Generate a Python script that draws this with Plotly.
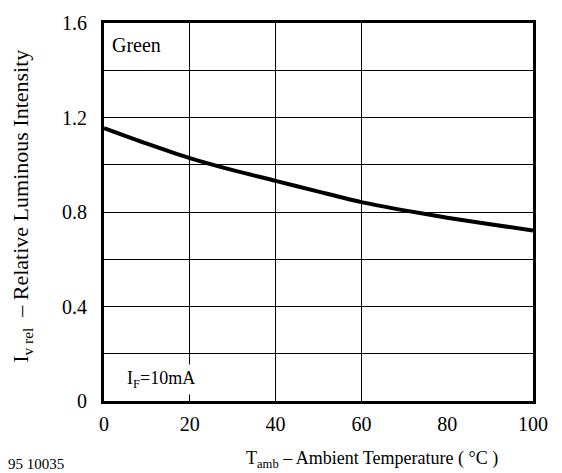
import plotly.graph_objects as go

# Relative luminous intensity vs. ambient temperature, green LED, IF = 10 mA
temperature = [0, 10, 20, 30, 40, 50, 60, 70, 80, 90, 100]
intensity = [1.155, 1.089, 1.028, 0.977, 0.932, 0.886, 0.842, 0.807, 0.776, 0.748, 0.722]

x_ticks = [0, 20, 40, 60, 80, 100]
y_ticks = [0, 0.4, 0.8, 1.2, 1.6]
y_tick_text = ["0", "0.4", "0.8", "1.2", "1.6"]
x_grid = [20, 40, 60]

FONT = "Liberation Serif"

fig = go.Figure()
fig.add_trace(go.Scatter(
    x=temperature, y=intensity, mode="lines",
    line=dict(color="black", width=4, shape="spline", smoothing=0.8),
    showlegend=False, hoverinfo="skip",
))

fig.update_layout(
    width=562, height=473,
    margin=dict(l=104, r=29, t=15, b=72),
    paper_bgcolor="white", plot_bgcolor="white",
    font=dict(family=FONT, size=20, color="black"),
    xaxis=dict(
        range=[0, 100], tickvals=x_ticks, ticks="",
        tickfont=dict(family=FONT, size=20, color="black"),
        showgrid=False, zeroline=False,
        showline=True, linecolor="black", linewidth=3, mirror=True,
        ticklabelstandoff=3,
        minor=dict(tickvals=x_grid, showgrid=True, gridcolor="black", gridwidth=1, ticks=""),
    ),
    yaxis=dict(
        range=[0, 1.6], tickvals=y_ticks, ticktext=y_tick_text,
        tickfont=dict(family=FONT, size=20, color="black"),
        ticks="", showgrid=True, gridcolor="black", gridwidth=1, zeroline=False,
        showline=True, linecolor="black", linewidth=3, mirror=True,
        ticklabelstandoff=10,
        minor=dict(dtick=0.2, showgrid=True, gridcolor="black", gridwidth=1, ticks=""),
    ),
)

fig.add_annotation(
    x=0.015, y=0.975, xref="paper", yref="paper", xanchor="left", yanchor="top",
    text="Green", showarrow=False, font=dict(size=20, family=FONT),
)
fig.add_annotation(
    x=0.045, y=0.015, xref="paper", yref="paper", xanchor="left", yanchor="bottom",
    text="I<sub>F</sub>=10mA", showarrow=False, font=dict(size=18, family=FONT),
    bgcolor="white", borderpad=3,
)
fig.add_annotation(
    x=0.625, y=-0.12, xref="paper", yref="paper", xanchor="center", yanchor="top",
    text="T<sub>amb</sub> – Ambient Temperature ( °C )", showarrow=False,
    font=dict(size=18, family=FONT),
)
fig.add_annotation(
    x=-0.19, y=0.515, xref="paper", yref="paper", xanchor="center", yanchor="middle",
    text="I<sub>v rel</sub>  – Relative Luminous Intensity", showarrow=False, textangle=-90,
    font=dict(size=22, family=FONT),
)
fig.add_annotation(
    x=-0.228, y=-0.14, xref="paper", yref="paper", xanchor="left", yanchor="top",
    text="95 10035", showarrow=False, font=dict(size=15, family=FONT),
)

fig.write_html("out.html")
